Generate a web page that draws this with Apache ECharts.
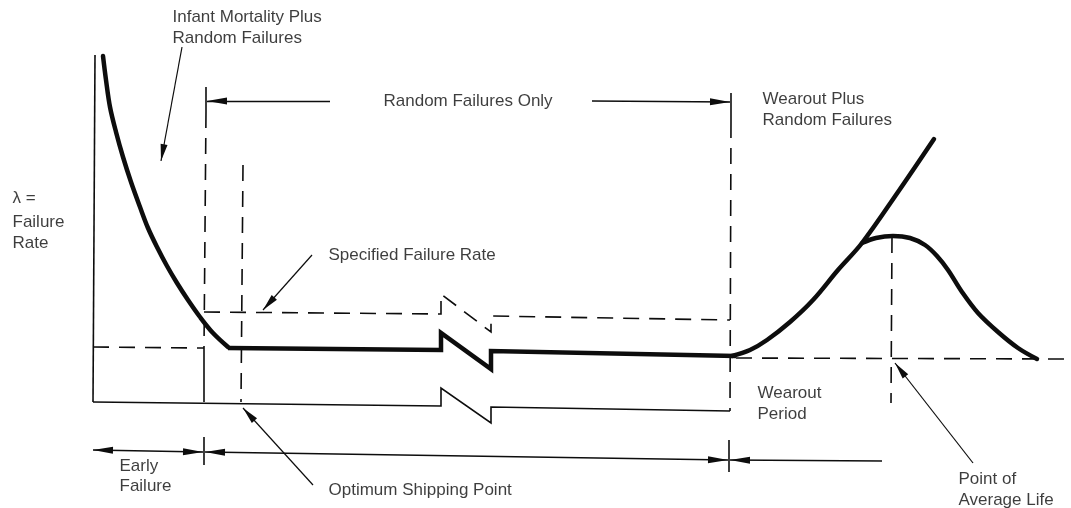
<!DOCTYPE html>
<html>
<head>
<meta charset="utf-8">
<script src="https://cdn.jsdelivr.net/npm/echarts@6/dist/echarts.min.js"></script>
<style>
  html, body { margin: 0; background: #fff; }
  #chart { width: 1071px; height: 508px; }
</style>
</head>
<body>
<div id="chart"></div>
<script>
// all points, x to the right, y downward (page units)

// thick curve pieces
const infantCurve = [[103,56],[106,80],[110,107],[116,132],[123,157],[131,182],[140,207],[148,228],[157,247],[167,266],[177,283],[188,300],[200,317],[213,333],[228,347]];
const usefulLife = [[228,348],[441,350],[441,333],[491,369],[491,351],[736,356]];
const wearoutRise = [[732,356],[750,350],[767,340],[790,322],[813,300],[838,270],[862,243],[898,192],[934,139]];
const averageLifeBell = [[862,243],[876,238],[893,236],[910,238],[925,245],[937,256],[948,270],[962,292],[978,313],[998,332],[1018,348],[1037,359]];

// thin solid lines
const rateAxis = [[95,55],[93,402]];
const timeBase = [[93,402],[441,406],[441,388],[491,423],[491,407],[730,411]];
const earlyFoot = [[204,348],[204,402]];
const tickTopEarly = [[206,87],[206,112]];
const tickTopWear = [[731,93],[731,122]];
const tickLowEarly = [[204,437],[204,465]];
const tickLowWear = [[729,440],[729,472]];

// dashed lines
const randomLevel = [[93,347],[204,348]];
const specifiedRate = [[204,312],[441,314],[441,294],[491,332],[491,316],[730,320]];
const wearoutLevel = [[736,358],[1068,359]];
const earlyEnd = [[206,112],[204,348]];
const shippingPoint = [[243,165],[241,402]];
const randomEnd = [[731,122],[730,411]];
const averageLife = [[892,237],[891,403]];

// arrows: head at the last point
const arrowRandomLeft = [[330,101],[207,101]];
const arrowRandomRight = [[592,101],[730,102]];
const arrowWearLeft = [[882,461],[730,460]];
// arrows with a head at both ends
const spanEarly = [[93,450],[203,452]];
const spanUseful = [[205,452],[728,460]];
// callout pointers
const pointInfant = [[182,47],[161,161]];
const pointSpecified = [[312,255],[263,310]];
const pointShipping = [[313,485],[243,408]];
const pointAverage = [[973,463],[895,363]];

// text: left edge, vertical centre, text
const labels = [
  [172, 17, 'Infant Mortality Plus'],
  [172, 38, 'Random Failures'],
  [383, 101, 'Random Failures Only'],
  [12, 198, 'λ ='],
  [12, 222, 'Failure'],
  [12, 243, 'Rate'],
  [328, 255, 'Specified Failure Rate'],
  [762, 99, 'Wearout Plus'],
  [762, 120, 'Random Failures'],
  [757, 393, 'Wearout'],
  [757, 414, 'Period'],
  [119, 466, 'Early'],
  [119, 486, 'Failure'],
  [328, 490, 'Optimum Shipping Point'],
  [958, 479, 'Point of'],
  [958, 500, 'Average Life']
];

const ink = '#0d0d0d';
// narrow arrowhead with its tip at the symbol centre (empty upper half)
const head = 'path://M0,0L0,0.01M0,16L3.5,32L-3.5,32Z';

// smooth thick curve through the read points
function curve(points) {
  return {
    type: 'line',
    silent: true,
    smooth: 0.35,
    symbol: 'none',
    lineStyle: { color: ink, width: 4.5, cap: 'round' },
    data: points
  };
}

// straight polylines (solid or dashed)
function path(list, width, type) {
  return {
    type: 'lines',
    coordinateSystem: 'cartesian2d',
    polyline: true,
    silent: true,
    lineStyle: { color: ink, width: width, type: type || 'solid', opacity: 1, join: 'miter' },
    data: list.map(c => ({ coords: c }))
  };
}

// two-point arrows
function arrows(list, width, symbol, size) {
  return {
    type: 'lines',
    coordinateSystem: 'cartesian2d',
    silent: true,
    symbol: symbol,
    symbolSize: [size, size],
    lineStyle: { color: ink, width: width, opacity: 1, curveness: 0 },
    itemStyle: { color: ink },
    data: list.map(c => ({ coords: c }))
  };
}

const chart = echarts.init(document.getElementById('chart'), null, { renderer: 'canvas' });
chart.setOption({
  animation: false,
  backgroundColor: '#fff',
  grid: { left: 0, right: 0, top: 0, bottom: 0 },
  xAxis: { type: 'value', min: 0, max: 1071, show: false },
  yAxis: { type: 'value', min: 0, max: 508, inverse: true, show: false },
  series: [
    curve(infantCurve),
    curve(wearoutRise),
    curve(averageLifeBell),
    path([usefulLife], 4.5),
    path([rateAxis, timeBase, earlyFoot, tickTopEarly, tickTopWear, tickLowEarly, tickLowWear], 1.6),
    path([randomLevel, specifiedRate, wearoutLevel, earlyEnd, shippingPoint, randomEnd, averageLife], 1.6, [16, 10]),
    arrows([arrowRandomLeft, arrowRandomRight, arrowWearLeft], 1.4, ['none', head], [7, 40]),
    arrows([spanEarly, spanUseful], 1.4, [head, head], [7, 40]),
    arrows([pointInfant, pointSpecified, pointShipping, pointAverage], 1.2, ['none', head], [7, 34]),
    {
      type: 'scatter',
      silent: true,
      symbolSize: 1,
      itemStyle: { color: 'rgba(0,0,0,0)' },
      data: labels,
      label: {
        show: true,
        position: 'right',
        distance: 0,
        color: '#0d0d0d',
        fontFamily: 'Liberation Sans, Arial, sans-serif',
        fontSize: 17,
        formatter: p => p.value[2]
      },
      labelLayout: { hideOverlap: false }
    }
  ]
});
</script>
</body>
</html>
